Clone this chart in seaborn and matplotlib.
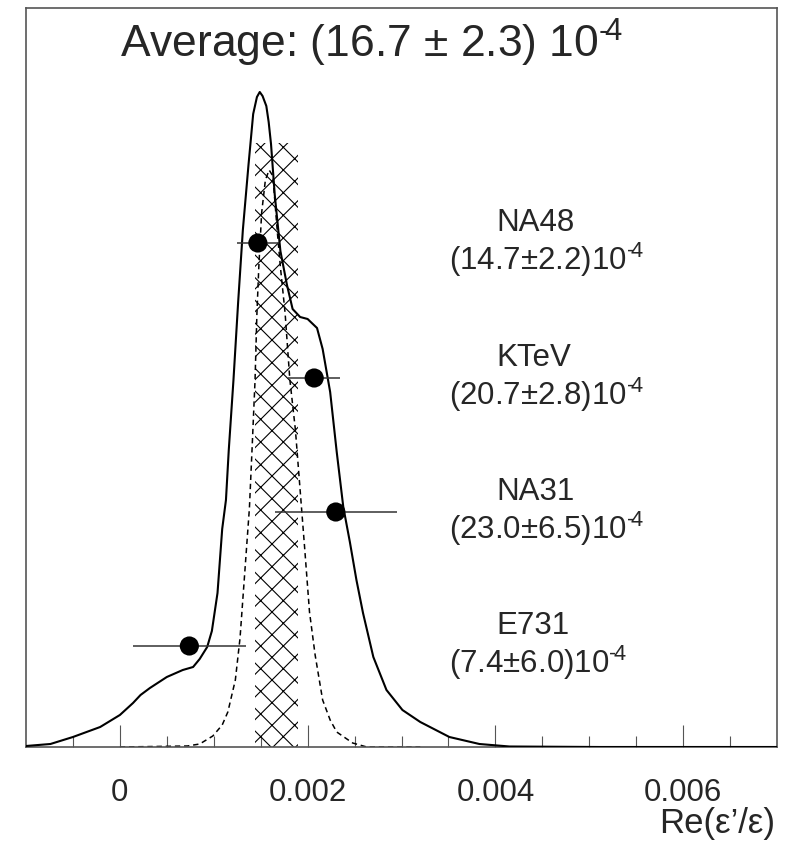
import numpy as np
import pandas as pd
import matplotlib
matplotlib.use("Agg")
import matplotlib.pyplot as plt
import seaborn as sns

# ---------------- data (x in units of 1e-4, heights in arbitrary units) ----------------
ideo_x = [-10.0, -7.4, -5.0, -2.1, 0.0, 1.4, 2.2, 3.2, 5.0, 6.7, 7.8, 8.5, 9.3, 9.8, 10.4,
          10.9, 11.3, 11.6, 12.1, 12.6, 13.1, 13.7, 14.2, 14.6, 14.9, 15.2, 15.6, 15.85, 16.1,
          16.5, 17.1, 17.8, 18.4, 19.2, 20.0, 21.0, 21.6, 22.4, 23.1, 23.8, 24.5, 25.2, 25.9,
          27.0, 28.4, 30.1, 32.0, 35.1, 38.3, 41.5, 51.1, 70.0]
ideo_y = [1, 3, 10, 20, 32, 44, 52, 59, 70, 77, 80, 88, 100, 116, 154,
          218, 247, 297, 367, 445, 517, 582, 633, 650, 655, 651, 641, 625, 603,
          552, 496, 462, 438, 430, 428, 419, 398, 355, 295, 240, 205, 167, 134,
          90, 57, 37, 25, 10, 3, 0.5, 0, 0]

avg_x = [0.0, 7.2, 8.5, 9.9, 10.9, 11.5, 12.3, 12.8, 13.3, 13.8, 14.1, 14.4, 14.6, 14.8,
         15.1, 15.5, 15.9, 16.3, 16.5, 16.8, 17.1, 17.6, 18.1, 18.7, 19.2, 19.7, 20.2,
         20.8, 21.6, 22.4, 23.1, 24.8, 26.3, 32.0]
avg_y = [0, 1, 3, 11, 22, 35, 67, 109, 174, 239, 302, 367, 434, 480,
         534, 567, 577, 571, 547, 512, 480, 434, 368, 317, 257, 197, 135,
         92, 47, 27, 15, 4, 0, 0]

experiments = ["NA48", "KTeV", "NA31", "E731"]
values = [14.7, 20.7, 23.0, 7.4]
errors = [2.2, 2.8, 6.5, 6.0]
point_y = [504, 369, 235, 101]
SUP = "$^{\u2010\\!4}$"
value_labels = ["(14.7\u00b12.2)10" + SUP, "(20.7\u00b12.8)10" + SUP,
                "(23.0\u00b16.5)10" + SUP, "(7.4\u00b16.0)10" + SUP]

avg_value = 16.7
avg_error = 2.3
band_height = 604
title = "Average: (16.7 \u00b1 2.3) 10" + SUP
x_label = "Re(\u03b5\u2019/\u03b5)"
tick_vals = [0.0, 0.002, 0.004, 0.006]
tick_labels = ["0", "0.002", "0.004", "0.006"]

# ---------------- style ----------------
DPI = 136
f = 100 / DPI  # sizes below were tuned for 100 dpi

sns.set_style("white")
plt.rcParams["font.family"] = ["Liberation Sans", "DejaVu Sans"]
plt.rcParams["mathtext.fontset"] = "custom"
plt.rcParams["mathtext.rm"] = "Liberation Sans"
plt.rcParams["mathtext.it"] = "Liberation Sans:italic"
plt.rcParams["mathtext.bf"] = "Liberation Sans:bold"
plt.rcParams["mathtext.sf"] = "Liberation Sans"
plt.rcParams["hatch.linewidth"] = 0.8 * f

W, H = 788, 850
fig = plt.figure(figsize=(W / DPI, H / DPI), dpi=DPI)
ax = fig.add_axes([26 / W, 1 - 747 / H, (777 - 26) / W, (747 - 8) / H])

scale = 1e-4
df_ideo = pd.DataFrame({"x": np.array(ideo_x) * scale, "y": ideo_y})
df_avg = pd.DataFrame({"x": np.array(avg_x) * scale, "y": avg_y})
df_pts = pd.DataFrame({"x": np.array(values) * scale, "y": point_y,
                       "err": np.array(errors) * scale, "name": experiments})

# hatched band: average +- error
lo = (avg_value - avg_error) * scale
hi = (avg_value + avg_error) * scale
ax.fill_between([lo, hi], [0, 0], [band_height, band_height], facecolor="none",
                edgecolor="black", hatch="xx", linewidth=0, zorder=1)

sns.lineplot(data=df_avg, x="x", y="y", ax=ax, color="black", linewidth=1.1 * f,
             linestyle=(0, (3.5, 2.5)), errorbar=None, sort=False, zorder=2)
sns.lineplot(data=df_ideo, x="x", y="y", ax=ax, color="black", linewidth=1.5 * f,
             errorbar=None, sort=False, zorder=3)

ax.errorbar(df_pts["x"], df_pts["y"], xerr=df_pts["err"], fmt="none",
            ecolor="#333333", elinewidth=1.1 * f, capsize=0, zorder=4)
sns.scatterplot(data=df_pts, x="x", y="y", ax=ax, color="black", s=190 * f * f,
                edgecolor="none", zorder=5, legend=False)

# text labels
for name, lab, ny in zip(experiments, value_labels, point_y):
    ax.text(40.1 * scale, ny + 12, name, fontsize=22.5 * f, ha="left", va="baseline")
    ax.text(35.1 * scale, ny - 27, lab, fontsize=22.5 * f, ha="left", va="baseline")

ax.text(0.0, 689, title, fontsize=32 * f, ha="left", va="baseline")

# axes
ax.set_xlim(-0.001, 0.007)
ax.set_ylim(0, 739)
ax.set_xticks(tick_vals)
ax.set_xticklabels(tick_labels, fontsize=22.5 * f)
ax.set_xticks(np.arange(-0.0005, 0.007, 0.0005), minor=True)
ax.set_yticks([])
ax.tick_params(axis="x", which="major", direction="in", length=16 * f, width=0.8 * f,
               color="#555555", pad=22 * f, bottom=True)
ax.tick_params(axis="x", which="minor", direction="in", length=8 * f, width=0.8 * f,
               color="#555555", bottom=True)
ax.set_xlabel("")
ax.set_ylabel("")
for sp in ax.spines.values():
    sp.set_color("#555555")
    sp.set_linewidth(1.2 * f)

fig.text(775 / W, 1 - 823 / H, x_label, fontsize=25 * f, ha="right", va="center")

fig.savefig("out.png", dpi=DPI)
